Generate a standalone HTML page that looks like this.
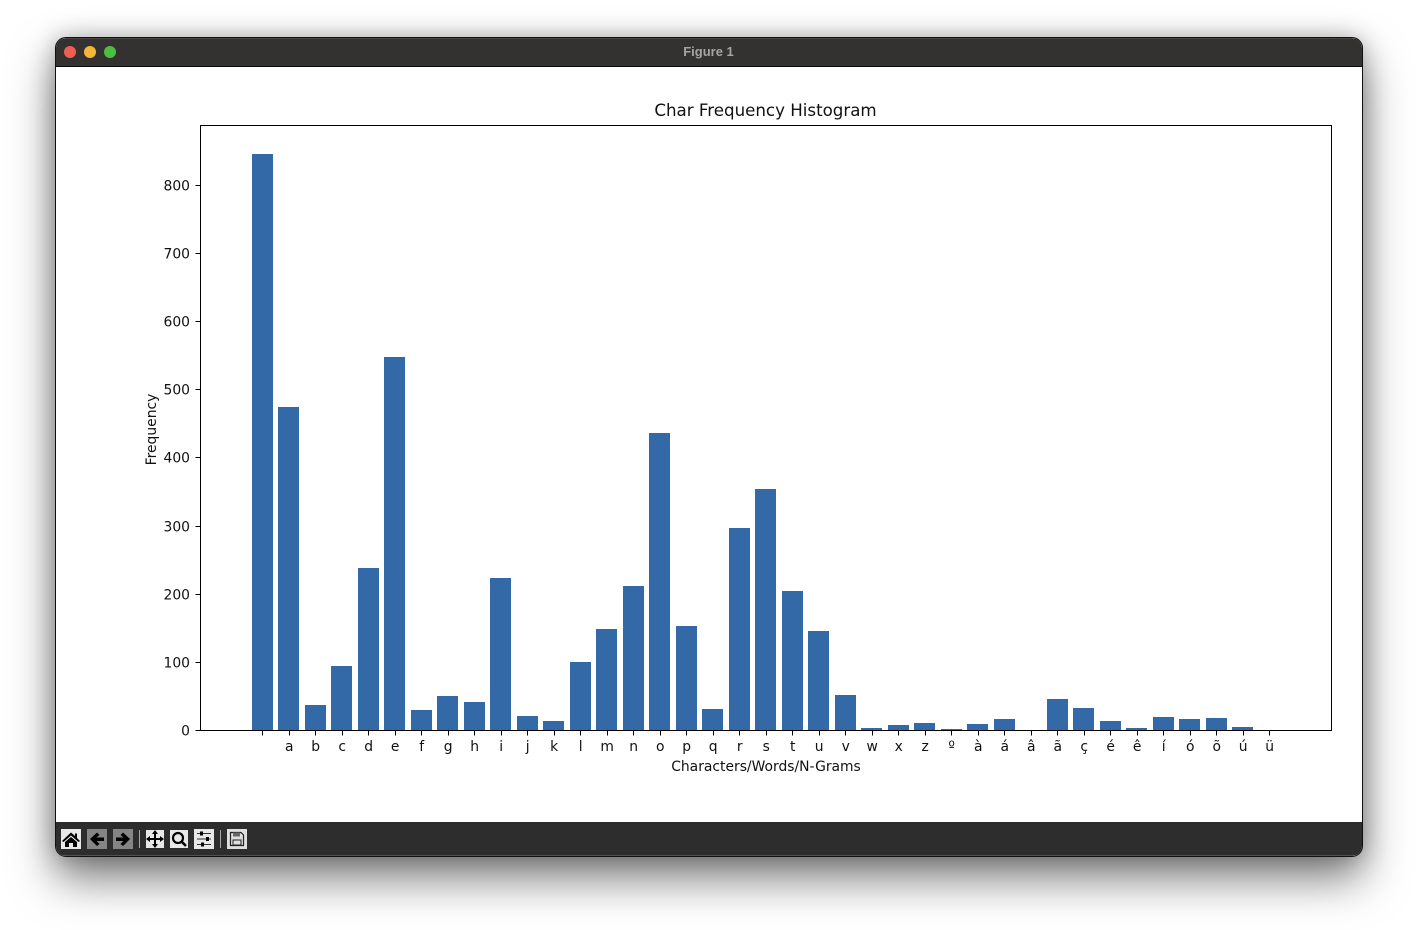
<!DOCTYPE html>
<html lang="en">
<head>
<meta charset="utf-8">
<title>Figure 1</title>
<style>
html,body{margin:0;padding:0;width:1418px;height:930px;overflow:hidden;background:#fff}
#window{position:absolute;left:55px;top:37px;width:1306px;height:818px;border:1px solid #111;border-radius:11px;background:#fff;box-shadow:0 22px 44px rgba(0,0,0,.5),0 0 24px rgba(0,0,0,.26);overflow:hidden}
#titlebar{position:absolute;left:0;top:0;width:100%;height:28px;background:#343230;border-bottom:1px solid #0c0c0c;box-shadow:inset 0 1px 0 rgba(255,255,255,.1)}
.light{position:absolute;top:8px;width:12px;height:12px;border-radius:50%}
#wintitle{position:absolute;left:-1px;right:0;top:6px;text-align:center;font:bold 13px "Liberation Sans",sans-serif;color:#a5a5a5}
#toolbar{position:absolute;left:0;top:784px;width:100%;height:34px;background:#2d2d2d;box-shadow:inset 0 -1px 0 rgba(255,255,255,.18)}
#chart{position:absolute;left:0;top:0}
text{font-family:"DejaVu Sans",sans-serif;fill:#111}
</style>
</head>
<body>
<div id="window">
  <div id="titlebar">
    <div class="light" style="left:8px;background:#ec5f52"></div>
    <div class="light" style="left:28px;background:#f5b638"></div>
    <div class="light" style="left:48px;background:#4fbd3f"></div>
    <div id="wintitle">Figure 1</div>
  </div>
  <div id="toolbar"></div>
</div>
<svg id="chart" width="1418" height="930" viewBox="0 0 1418 930">
  <text x="765.5" y="116" text-anchor="middle" font-size="16.67">Char Frequency Histogram</text>
  <text x="766" y="771" text-anchor="middle" font-size="13.89">Characters/Words/N-Grams</text>
  <text transform="translate(156,429.5) rotate(-90)" text-anchor="middle" font-size="13.89">Frequency</text>
  <g id="bars"></g>
  <g id="xticks"></g>
  <g id="yticks"></g>
  <rect x="200.5" y="125.5" width="1131" height="605" fill="none" stroke="#000" stroke-width="1"></rect>

  <g>
    <rect x="61" y="829" width="20" height="20" fill="#e8e8e8"></rect>
    <path d="M71 832.500 L75 836 L75 833.500 L77 833.500 L77 838 L80 841 L78.500 842 L71 835.500 L63.500 842 L62 841 Z" fill="#000"></path>
    <path d="M71 837 L77 842 L77 847 L73 847 L73 843 L69 843 L69 847 L65 847 L65 842 Z" fill="#000"></path>
  </g>
  <g>
    <rect x="87" y="829" width="20" height="20" fill="#858585"></rect>
    <path d="M97 832.500 L99.500 835 L96.500 837.500 L104 837.500 L104 841 L96.500 841 L99.500 844 L97 846 L90 839 Z" fill="#000"></path>
  </g>
  <g>
    <rect x="113" y="829" width="20" height="20" fill="#858585"></rect>
    <path d="M123 832.500 L120.500 835 L123.500 837.500 L116 837.500 L116 841 L123.500 841 L120.500 844 L123 846 L130 839 Z" fill="#000"></path>
  </g>
  <rect x="139" y="830" width="1" height="18" fill="#a8a8a8"></rect>
  <g>
    <rect x="146" y="830" width="18" height="18" fill="#e8e8e8"></rect>
    <path d="M155 830 L158 834 L156 834 L156 838 L160 838 L160 836 L164 839 L160 842 L160 840 L156 840 L156 844 L158 844 L155 848 L152 844 L154 844 L154 840 L150 840 L150 842 L146 839 L150 836 L150 838 L154 838 L154 834 L152 834 Z" fill="#000"></path>
  </g>
  <g>
    <rect x="170" y="830" width="18" height="18" fill="#e8e8e8"></rect>
    <circle cx="178" cy="838" r="5" fill="none" stroke="#000" stroke-width="2.200"></circle>
    <path d="M181.500 841.500 L186 846" stroke="#000" stroke-width="2.600"></path>
  </g>
  <g>
    <rect x="194" y="829" width="20" height="20" fill="#e8e8e8"></rect>
    <path d="M197 833.500 H211 M197 839 H211 M197 844.500 H211" stroke="#333" stroke-width="1"></path>
    <rect x="200" y="831.500" width="3" height="4" fill="#000"></rect>
    <rect x="206" y="837" width="3" height="4" fill="#000"></rect>
    <rect x="201" y="842.500" width="3" height="4" fill="#000"></rect>
  </g>
  <rect x="220" y="830" width="1" height="18" fill="#a8a8a8"></rect>
  <g>
    <rect x="227" y="829" width="20" height="20" fill="#dedede"></rect>
    <path d="M230.500 832.500 H241 L243.500 835 V845.500 H230.500 Z" fill="none" stroke="#222" stroke-width="1.200"></path>
    <rect x="233" y="832.500" width="7" height="4" fill="#666"></rect>
    <rect x="233" y="840" width="8" height="5" fill="none" stroke="#222" stroke-width="1"></rect>
  </g>
</svg>
<script>
const categories = [" ","a","b","c","d","e","f","g","h","i","j","k","l","m","n","o","p","q","r","s","t","u","v","w","x","z","º","à","á","â","ã","ç","é","ê","í","ó","õ","ú","ü"];
const frequencies = [845,474,37,94,238,548,30,50,42,223,21,14,100,149,212,436,153,31,297,354,204,146,52,4,8,11,2,9,17,0,46,33,14,4,20,17,18,5,1];
const yTickValues = [0,100,200,300,400,500,600,700,800];

const NS = 'http://www.w3.org/2000/svg';
const baseY = 730.5;
const pxPerUnit = 0.682;
const firstX = 262.3;
const stepX = 26.5;
const barWidth = 0.8 * stepX;
function xScale(i) { return firstX + i * stepX; }
function yScale(v) { return baseY - v * pxPerUnit; }
function make(tag, attrs) {
  const el = document.createElementNS(NS, tag);
  Object.keys(attrs).forEach(function (k) { el.setAttribute(k, attrs[k]); });
  return el;
}
const barsG = document.getElementById('bars');
const xG = document.getElementById('xticks');
const yG = document.getElementById('yticks');

categories.forEach(function (c, i) {
  const x = xScale(i);
  const left = Math.round(x - barWidth / 2);
  const right = Math.round(x + barWidth / 2);
  const top = Math.round(yScale(frequencies[i]));
  const bar = make('rect', {x: left, y: top, width: right - left, height: Math.max(0, 730 - top), fill: '#3469a8'});
  
  
  barsG.appendChild(bar);

  const tx = Math.round(x) + 0.5;
  const tick = make('line', {x1: tx, x2: tx, y1: baseY, y2: baseY + 5, stroke: '#000', 'stroke-width': 1});
  
  
  xG.appendChild(tick);

  const label = make('text', {x: x + 0.4, y: 751, 'text-anchor': 'middle', 'font-size': 13.89});
  label.textContent = c;
  
  
  xG.appendChild(label);
});

yTickValues.forEach(function (v) {
  const y = Math.round(yScale(v) - 0.3) + 0.5;
  const tick = make('line', {x1: 195.5, x2: 200.5, y1: y, y2: y, stroke: '#000', 'stroke-width': 1});
  
  
  yG.appendChild(tick);

  const label = make('text', {x: 190, y: y + 5, 'text-anchor': 'end', 'font-size': 13.89});
  label.textContent = String(v);
  
  
  yG.appendChild(label);
});
</script>
</body>
</html>
